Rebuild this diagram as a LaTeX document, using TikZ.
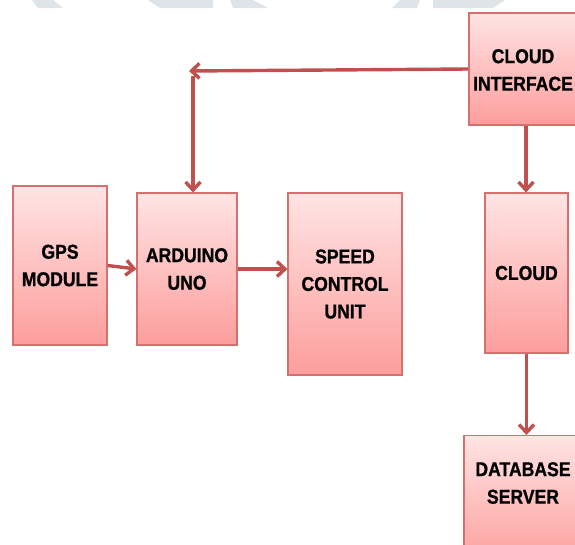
\documentclass[tikz,border=0pt]{standalone}
\usepackage{fontspec}
\newfontfamily\blockfont{Liberation Sans}[FakeStretch=0.88,FakeBold=1]
\usetikzlibrary{arrows.meta,shadows}
\definecolor{arrowred}{RGB}{192,80,77}
\definecolor{boxedge}{RGB}{214,112,110}
\definecolor{boxtop}{RGB}{255,228,228}
\definecolor{boxbottom}{RGB}{252,158,156}
\definecolor{wmgrey}{RGB}{222,228,232}
\tikzset{block/.style={draw=boxedge, line width=1.1pt, top color=boxtop, bottom color=boxbottom,
    drop shadow={shadow xshift=1.2pt, shadow yshift=-1.2pt, opacity=0.25},
    align=center, inner sep=0pt, font=\blockfont\bfseries\fontsize{20}{27.5}\selectfont}}
\tikzset{blocktext/.style={align=center, inner sep=0pt, font=\blockfont\bfseries\fontsize{20}{27.5}\selectfont}}
\tikzset{every edge/.style={draw=arrowred, line width=3.4pt, -{Straight Barb[length=8pt,width=15pt]}}}

\begin{document}
\begin{tikzpicture}[x=1pt, y=-1pt]
  \useasboundingbox (0,0) rectangle (575,544);
  % faint watermark at the top
  \fill[wmgrey] (32,0) -- (53,0) -- (63,8) -- (38,8) -- cycle;
  \fill[wmgrey] (148,0) -- (213,0) -- (213,8) -- (160,8) -- cycle;
  \fill[wmgrey] (230,0) -- (253,0) -- (268,8) -- (233,8) -- cycle;
  \fill[wmgrey] (400,0) -- (420,0) -- (417,8) -- (392,8) -- cycle;
  \fill[wmgrey] (433,0) -- (505,0) -- (493,8) -- (433,8) -- cycle;

  \node (gps) [block, minimum width=94, minimum height=159] at (60,265.5) {GPS\\MODULE};
  \node (ard) [block, minimum width=100, minimum height=152] at (187,269) {ARDUINO\\UNO};
  \node (spd) [block, minimum width=114, minimum height=182] at (345,284) {SPEED\\CONTROL\\UNIT};
  \node (ci) [block, minimum width=114, minimum height=112] at (526,69) {};
  \node (citxt) [blocktext] at (523,70) {CLOUD\\INTERFACE};
  \node (cld) [block, minimum width=83, minimum height=160] at (526.5,273) {CLOUD};
  \node (db) [block, minimum width=118, minimum height=130, anchor=north] at (523,435) {};
  \node (dbtxt) [blocktext] at (523,483) {DATABASE\\SERVER};

  \coordinate (ret) at (189,71);
  \coordinate (drop) at (193,76);

  \path (ci.west) edge (ret);
  \path (drop) edge (drop |- ard.north);

  \path (gps.east) edge (ard.west);
  \path (ard.east) edge (ard.east -| spd.west);

  \path (ci.south) edge (ci.south |- cld.north);
  \path (cld.south) edge (cld.south |- db.north);
\end{tikzpicture}
\end{document}
